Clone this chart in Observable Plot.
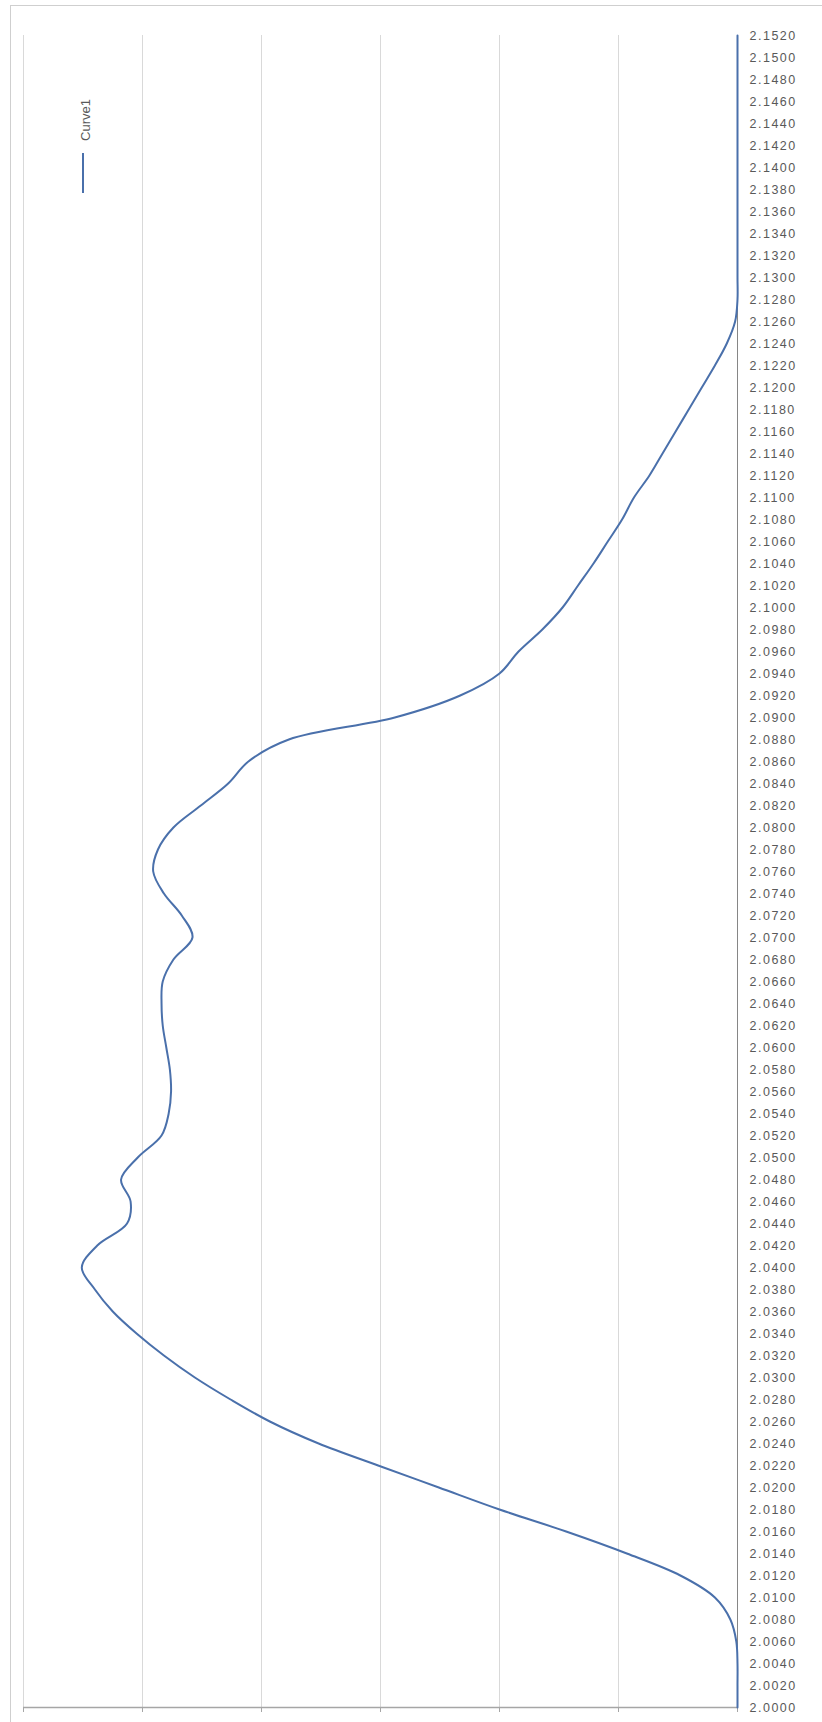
<!DOCTYPE html>
<html>
<head>
<meta charset="utf-8">
<script src="https://cdn.jsdelivr.net/npm/d3@7"></script>
<script src="https://cdn.jsdelivr.net/npm/@observablehq/plot@0.6"></script>
<style>
  html, body { margin: 0; padding: 0; background: #fff; overflow: hidden; }
  #wrap { position: relative; width: 822px; height: 1722px; }
  #border { position: absolute; left: 10px; top: 5px; width: 900px; height: 1800px;
            border: 1px solid #cfcfcf; box-sizing: border-box; }
  #chart { position: absolute; left: 0; top: 0; }
  #legend-line { position: absolute; left: 82px; top: 153px; width: 2px; height: 40px; }
  #legend-text { position: absolute; left: 85px; top: 120px; transform: translate(-50%, -50%) rotate(-90deg);
                 font: 13px "Liberation Sans", Arial, sans-serif; color: #595959; white-space: nowrap; }
  #chart svg g[aria-label="y-axis tick label"] text { letter-spacing: 1.5px; }
</style>
</head>
<body>
<div id="wrap">
  <div id="border"></div>
  <div id="chart"></div>
  <div id="legend-line"></div>
  <div id="legend-text"></div>
</div>
<script>
// Category labels, first category (bottom of the chart) to last (top)
const categories = [
  "2.0000","2.0020","2.0040","2.0060","2.0080","2.0100","2.0120","2.0140","2.0160","2.0180",
  "2.0200","2.0220","2.0240","2.0260","2.0280","2.0300","2.0320","2.0340","2.0360","2.0380",
  "2.0400","2.0420","2.0440","2.0460","2.0480","2.0500","2.0520","2.0540","2.0560","2.0580",
  "2.0600","2.0620","2.0640","2.0660","2.0680","2.0700","2.0720","2.0740","2.0760","2.0780",
  "2.0800","2.0820","2.0840","2.0860","2.0880","2.0900","2.0920","2.0940","2.0960","2.0980",
  "2.1000","2.1020","2.1040","2.1060","2.1080","2.1100","2.1120","2.1140","2.1160","2.1180",
  "2.1200","2.1220","2.1240","2.1260","2.1280","2.1300","2.1320","2.1340","2.1360","2.1380",
  "2.1400","2.1420","2.1440","2.1460","2.1480","2.1500","2.1520"
];
// Series values, same order as categories
const seriesName = "Curve1";
const curve1 = [
  0, 0, 0, 0.01, 0.06, 0.19, 0.48, 0.93, 1.44, 2.00,
  2.51, 3.02, 3.52, 3.93, 4.26, 4.56, 4.82, 5.05, 5.25, 5.40,
  5.51, 5.38, 5.13, 5.10, 5.18, 5.04, 4.84, 4.78, 4.76, 4.77,
  4.80, 4.83, 4.84, 4.83, 4.74, 4.58, 4.67, 4.82, 4.91, 4.87,
  4.74, 4.51, 4.28, 4.11, 3.77, 2.88, 2.33, 2.00, 1.84, 1.64,
  1.47, 1.34, 1.21, 1.09, 0.97, 0.87, 0.74, 0.63, 0.52, 0.41,
  0.30, 0.19, 0.09, 0.02, 0, 0, 0, 0, 0, 0,
  0, 0, 0, 0, 0, 0, 0
];
const valueTicks = [0, 1, 2, 3, 4, 5, 6];

const lineColor = "#4a70ab";
const data = categories.map((c, i) => ({category: c, value: curve1[i]}));

const chart = Plot.plot({
  width: 822,
  height: 1722,
  marginLeft: 23,
  marginRight: 85,
  marginTop: 35,
  marginBottom: 15,
  style: {fontFamily: "'Liberation Sans', Arial, sans-serif", fontSize: "12.5px", color: "#595959", background: "transparent"},
  x: {domain: [0, 6], reverse: true, ticks: valueTicks},
  y: {type: "point", domain: categories.slice().reverse(), padding: 0},
  marks: [
    Plot.gridX(valueTicks.slice(1), {stroke: "#d9d9d9", strokeOpacity: 1}),
    Plot.axisX(valueTicks, {anchor: "bottom", tickSize: 5, tickFormat: () => "", stroke: "#a6a6a6", label: null}),
    Plot.ruleY([categories[0]], {stroke: "#a6a6a6", strokeWidth: 1.5}),
    Plot.ruleX([0], {stroke: "#868686"}),
    Plot.axisY({anchor: "right", tickSize: 0, tickPadding: 12, label: null, fill: "#595959"}),
    Plot.line(data, {x: "value", y: "category", stroke: lineColor, strokeWidth: 2, curve: "catmull-rom"})
  ]
});
document.getElementById("chart").appendChild(chart);
document.getElementById("legend-line").style.background = lineColor;
document.getElementById("legend-text").textContent = seriesName;
</script>
</body>
</html>
